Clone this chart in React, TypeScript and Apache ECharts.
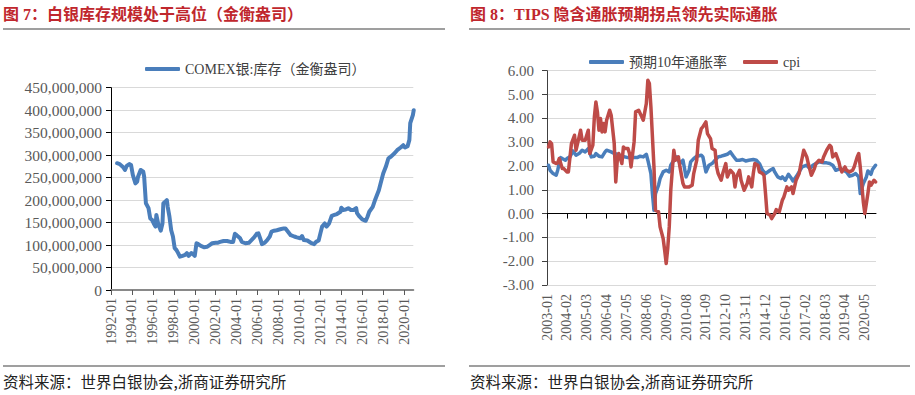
import React, { useEffect, useRef } from "react";
import * as echarts from "echarts";

// ---------- Figure 7: COMEX silver inventory (troy ounces) ----------
const silverBase = "1992-01";
const silverAxisEnd = "2020-12";
const silverTickLabels = [
  "1992-01", "1994-01", "1996-01", "1998-01", "2000-01", "2002-01", "2004-01", "2006-01",
  "2008-01", "2010-01", "2012-01", "2014-01", "2016-01", "2018-01", "2020-01",
];
const silverDates = [
  "1992-08", "1992-11", "1993-03", "1993-05", "1993-07", "1993-10", "1993-12", "1994-02", "1994-05", "1994-07",
  "1994-08", "1994-11", "1995-02", "1995-03", "1995-05", "1995-08", "1995-10", "1995-12", "1996-02", "1996-04",
  "1996-05", "1996-07", "1996-10", "1996-12", "1997-01", "1997-03", "1997-05", "1997-06", "1997-08", "1997-10",
  "1997-12", "1998-02", "1998-04", "1998-06", "1998-08", "1998-11", "1999-02", "1999-04", "1999-06", "1999-09",
  "1999-11", "2000-01", "2000-03", "2000-05", "2000-08", "2000-12", "2001-03", "2001-06", "2001-09", "2002-01",
  "2002-03", "2002-06", "2002-10", "2003-02", "2003-06", "2003-09", "2003-11", "2004-01", "2004-05", "2004-07",
  "2004-11", "2005-03", "2005-06", "2005-09", "2005-12", "2006-02", "2006-04", "2006-06", "2006-09", "2006-12",
  "2007-03", "2007-05", "2007-08", "2007-11", "2008-03", "2008-07", "2008-09", "2008-11", "2009-03", "2009-07",
  "2009-10", "2010-02", "2010-04", "2010-06", "2010-10", "2011-02", "2011-06", "2011-08", "2011-11", "2012-01",
  "2012-03", "2012-06", "2012-08", "2012-11", "2013-02", "2013-05", "2013-08", "2013-12", "2014-01", "2014-03",
  "2014-06", "2014-09", "2014-12", "2015-03", "2015-06", "2015-07", "2015-10", "2016-01", "2016-05", "2016-07",
  "2016-09", "2017-01", "2017-04", "2017-08", "2017-10", "2018-01", "2018-04", "2018-07", "2018-10", "2019-02",
  "2019-05", "2019-09", "2019-12", "2020-02", "2020-05", "2020-07", "2020-08", "2020-11", "2020-12",
];
// millions of troy ounces
const silverStockMillion = [
  282, 280, 273, 267, 276, 280, 278, 256, 237, 241,
  252, 267, 263, 252, 193, 182, 159, 156, 148, 141,
  167, 148, 132, 148, 193, 196, 200, 185, 163, 133,
  119, 93, 89, 82, 74, 76, 78, 82, 76, 82,
  80, 76, 104, 102, 98, 95, 96, 100, 104, 105,
  105, 107, 109, 109, 107, 107, 125, 122, 115, 107,
  104, 105, 111, 117, 125, 126, 115, 102, 105, 111,
  119, 130, 132, 133, 135, 137, 137, 132, 122, 119,
  117, 115, 120, 111, 110, 105, 102, 107, 110, 126,
  141, 148, 141, 148, 165, 167, 169, 174, 183, 178,
  179, 182, 178, 178, 182, 171, 163, 157, 154, 163,
  174, 185, 202, 222, 237, 259, 274, 293, 297, 304,
  311, 317, 322, 317, 320, 334, 371, 389, 400,
];

// ---------- Figure 8: TIPS breakeven vs CPI ----------
const tipsBase = "2003-01";
const tipsAxisEnd = "2020-12";
const tipsTickLabels = [
  "2003-01", "2004-02", "2005-03", "2006-04", "2007-05", "2008-06", "2009-07", "2010-08", "2011-09",
  "2012-10", "2013-11", "2014-12", "2016-01", "2017-02", "2018-03", "2019-04", "2020-05",
];
const breakevenDates = [
  "2003-02", "2003-03", "2003-05", "2003-07", "2003-08", "2003-09", "2003-10", "2003-11", "2004-01", "2004-02",
  "2004-04", "2004-06", "2004-08", "2004-10", "2004-12", "2005-02", "2005-04", "2005-06", "2005-08", "2005-09",
  "2005-11", "2006-01", "2006-03", "2006-04", "2006-07", "2006-09", "2006-11", "2007-02", "2007-06", "2007-09",
  "2007-12", "2008-02", "2008-04", "2008-06", "2008-07", "2008-09", "2008-10", "2008-11", "2008-12", "2009-02",
  "2009-03", "2009-05", "2009-07", "2009-09", "2009-10", "2009-12", "2010-02", "2010-04", "2010-06", "2010-08",
  "2010-10", "2010-11", "2011-01", "2011-03", "2011-06", "2011-07", "2011-09", "2011-11", "2012-01", "2012-03",
  "2012-05", "2012-07", "2012-09", "2012-11", "2013-01", "2013-03", "2013-05", "2013-07", "2013-09", "2013-11",
  "2014-01", "2014-04", "2014-06", "2014-08", "2014-10", "2014-12", "2015-03", "2015-05", "2015-06", "2015-08",
  "2015-10", "2015-11", "2016-01", "2016-03", "2016-05", "2016-06", "2016-08", "2016-10", "2016-12", "2017-03",
  "2017-05", "2017-07", "2017-09", "2017-11", "2018-02", "2018-04", "2018-06", "2018-08", "2018-10", "2019-01",
  "2019-03", "2019-05", "2019-07", "2019-09", "2019-11", "2020-01", "2020-02", "2020-04", "2020-06", "2020-07",
  "2020-09", "2020-10", "2020-12",
];
const breakevenValues = [
  2.03, 1.82, 1.68, 1.61, 1.82, 2.10, 2.35, 2.31, 2.24, 2.31,
  2.38, 2.63, 2.45, 2.52, 2.66, 2.59, 2.73, 2.38, 2.41, 2.52,
  2.41, 2.38, 2.59, 2.66, 2.59, 2.52, 2.49, 2.41, 2.35, 2.35,
  2.35, 2.41, 2.38, 2.49, 2.24, 1.68, 0.84, 0.14, 0.84, 1.19,
  1.47, 1.75, 1.82, 1.75, 2.03, 2.24, 2.38, 2.10, 2.24, 1.54,
  1.82, 2.17, 2.31, 2.41, 2.45, 2.38, 1.75, 2.03, 2.10, 2.24,
  2.38, 2.41, 2.45, 2.49, 2.59, 2.41, 2.24, 2.24, 2.27, 2.21,
  2.24, 2.27, 2.24, 2.10, 1.82, 1.68, 1.82, 1.89, 1.75, 1.54,
  1.47, 1.54, 1.40, 1.65, 1.47, 1.37, 1.54, 1.75, 1.96, 2.03,
  1.89, 2.03, 2.10, 2.17, 2.13, 2.13, 2.10, 2.03, 1.82, 1.89,
  1.82, 1.75, 1.57, 1.61, 1.68, 1.54, 0.84, 1.26, 1.54, 1.79,
  1.65, 1.85, 2.03,
];
const cpiDates = [
  "2003-02", "2003-03", "2003-04", "2003-05", "2003-07", "2003-08", "2003-09", "2003-11", "2003-12", "2004-02",
  "2004-03", "2004-05", "2004-07", "2004-08", "2004-09", "2004-11", "2004-12", "2005-02", "2005-04", "2005-05",
  "2005-07", "2005-08", "2005-09", "2005-10", "2005-11", "2005-12", "2006-01", "2006-02", "2006-03", "2006-04",
  "2006-06", "2006-07", "2006-09", "2006-10", "2006-11", "2006-12", "2007-02", "2007-03", "2007-04", "2007-06",
  "2007-07", "2007-08", "2007-10", "2007-11", "2008-01", "2008-03", "2008-04", "2008-06", "2008-07", "2008-08",
  "2008-09", "2008-11", "2008-12", "2009-02", "2009-03", "2009-05", "2009-06", "2009-07", "2009-08", "2009-09",
  "2009-10", "2009-12", "2010-01", "2010-03", "2010-04", "2010-06", "2010-07", "2010-10", "2010-12", "2011-01",
  "2011-03", "2011-04", "2011-06", "2011-07", "2011-09", "2011-10", "2011-12", "2012-01", "2012-03", "2012-04",
  "2012-05", "2012-07", "2012-08", "2012-10", "2012-11", "2013-01", "2013-03", "2013-04", "2013-05", "2013-07",
  "2013-08", "2013-10", "2013-12", "2014-01", "2014-03", "2014-04", "2014-05", "2014-07", "2014-08", "2014-10",
  "2014-11", "2014-12", "2015-01", "2015-03", "2015-04", "2015-06", "2015-07", "2015-09", "2015-11", "2015-12",
  "2016-02", "2016-03", "2016-05", "2016-06", "2016-08", "2016-10", "2016-11", "2017-01", "2017-03", "2017-04",
  "2017-06", "2017-08", "2017-09", "2017-11", "2018-01", "2018-02", "2018-04", "2018-06", "2018-07", "2018-08",
  "2018-10", "2018-12", "2019-01", "2019-02", "2019-04", "2019-05", "2019-07", "2019-09", "2019-10", "2019-12",
  "2020-01", "2020-02", "2020-04", "2020-05", "2020-07", "2020-08", "2020-09", "2020-11", "2020-12",
];
const cpiValues = [
  2.80, 3.01, 2.94, 2.17, 2.10, 2.13, 2.31, 1.89, 1.89, 1.75,
  1.75, 2.94, 3.29, 2.66, 2.94, 3.50, 3.08, 3.08, 3.50, 2.52,
  2.87, 4.06, 4.69, 4.27, 3.50, 3.99, 3.43, 3.78, 3.43, 3.92,
  4.34, 4.13, 2.94, 1.33, 2.24, 2.52, 2.10, 2.80, 2.73, 2.73,
  2.52, 1.96, 3.01, 4.27, 4.34, 4.06, 3.92, 4.62, 5.60, 5.46,
  4.48, 1.96, 0.14, 0.07, -0.56, -1.05, -1.54, -2.10, -1.47, -0.56,
  0.98, 2.66, 2.24, 2.38, 1.96, 1.26, 1.12, 1.12, 1.19, 1.68,
  2.24, 3.08, 3.57, 3.64, 3.85, 3.36, 3.15, 2.73, 2.66, 1.96,
  1.68, 1.40, 1.68, 2.10, 1.54, 1.82, 1.68, 1.12, 1.54, 1.82,
  1.40, 0.98, 1.26, 1.54, 1.12, 1.68, 2.10, 2.03, 1.75, 1.68,
  1.61, 0.84, 0.00, -0.07, -0.21, 0.00, 0.17, 0.07, 0.56, 0.70,
  1.12, 0.98, 1.12, 0.84, 1.40, 1.68, 2.03, 2.66, 2.38, 2.10,
  1.61, 1.89, 2.10, 2.24, 2.17, 2.38, 2.66, 2.87, 2.80, 2.38,
  2.52, 2.17, 1.89, 1.75, 1.96, 1.82, 1.75, 1.82, 1.96, 2.38,
  2.52, 1.96, 0.49, 0.00, 0.84, 1.33, 1.19, 1.40, 1.33,
];

const TITLE_RED = "#c0272d";
const BLUE = "#4a7ebb";
const RED = "#be4b48";
const SERIF = "'Liberation Serif', 'Times New Roman', 'Noto Sans CJK SC', serif";
const CJK = "'Noto Sans CJK SC', sans-serif";

function monthIndex(d: string, base: string): number {
  const [y, m] = d.split("-").map(Number);
  const [by, bm] = base.split("-").map(Number);
  return (y - by) * 12 + (m - bm);
}

export default function App() {
  const ref = useRef<HTMLDivElement>(null);

  useEffect(() => {
    if (!ref.current) return;
    const chart = echarts.init(ref.current, undefined, { renderer: "svg" });

    const silverTicks = silverTickLabels.map((l) => monthIndex(l, silverBase));
    const silverMax = monthIndex(silverAxisEnd, silverBase) - 0.5;
    const tipsTicks = tipsTickLabels.map((l) => monthIndex(l, tipsBase));
    const tipsMax = monthIndex(tipsAxisEnd, tipsBase) + 0.3;

    const silverData = silverDates.map((d, i) => [monthIndex(d, silverBase), silverStockMillion[i] * 1e6]);
    const beData = breakevenDates.map((d, i) => [monthIndex(d, tipsBase), breakevenValues[i]]);
    const cpiData = cpiDates.map((d, i) => [monthIndex(d, tipsBase), cpiValues[i]]);

    const silverLabel = (v: number) => {
      const k = silverTicks.indexOf(Math.round(v));
      return k >= 0 ? silverTickLabels[k] : "";
    };
    const tipsLabel = (v: number) => {
      const k = tipsTicks.indexOf(Math.round(v));
      return k >= 0 ? tipsTickLabels[k] : "";
    };

    const axisText = { color: "#595959", fontFamily: SERIF };

    chart.setOption({
      animation: false,
      backgroundColor: "#ffffff",
      grid: [
        { left: 111, top: 87.7, width: 302.3, height: 202.3, containLabel: false },
        { left: 547, top: 70.7, width: 329, height: 214.3, containLabel: false },
      ],
      legend: [
        {
          data: ["COMEX银:库存（金衡盎司）"],
          left: 145,
          top: 62,
          padding: 0,
          itemWidth: 35,
          itemHeight: 4,
          icon: "roundRect",
          textStyle: { fontSize: 14, color: "#404040", fontFamily: SERIF },
        },
        {
          data: ["预期10年通胀率", "cpi"],
          left: 589,
          top: 55,
          padding: 0,
          itemGap: 16,
          itemWidth: 35,
          itemHeight: 4,
          icon: "roundRect",
          textStyle: { fontSize: 14, color: "#404040", fontFamily: SERIF },
        },
      ],
      xAxis: [
        {
          type: "value",
          gridIndex: 0,
          min: 0,
          max: silverMax,
          interval: 24,
          axisLine: { show: true, onZero: false, lineStyle: { color: "#898989", width: 2 } },
          axisTick: { show: true, length: 5, customValues: silverTicks, lineStyle: { color: "#595959" } },
          axisLabel: {
            ...axisText,
            fontSize: 14,
            rotate: 90,
            margin: 8,
            customValues: silverTicks,
            formatter: silverLabel,
          },
          splitLine: { show: false },
        },
        {
          type: "value",
          gridIndex: 1,
          position: "bottom",
          min: 0,
          max: tipsMax,
          interval: 13,
          axisLine: { show: false, onZero: false },
          axisTick: { show: false },
          axisLabel: {
            ...axisText,
            fontSize: 14,
            rotate: 90,
            margin: 9,
            customValues: tipsTicks,
            formatter: tipsLabel,
          },
          splitLine: { show: false },
        },
        {
          type: "value",
          gridIndex: 1,
          position: "bottom",
          min: 0,
          max: tipsMax,
          interval: 13,
          axisLine: { show: true, onZero: true, lineStyle: { color: "#000000", width: 1 } },
          axisTick: { show: true, length: 5, customValues: tipsTicks, lineStyle: { color: "#000000" } },
          axisLabel: { show: false },
          splitLine: { show: false },
        },
      ],
      yAxis: [
        {
          type: "value",
          gridIndex: 0,
          min: 0,
          max: 450000000,
          interval: 50000000,
          axisLine: { show: true, onZero: false, lineStyle: { color: "#000000", width: 1 } },
          axisTick: { show: true, length: 5, lineStyle: { color: "#000000" } },
          axisLabel: {
            ...axisText,
            fontSize: 15.5,
            margin: 9,
            formatter: (v: number) => v.toLocaleString("en-US"),
          },
          splitLine: { show: true, lineStyle: { color: "#d9d9d9", width: 1 } },
        },
        {
          type: "value",
          gridIndex: 1,
          min: -3,
          max: 6,
          interval: 1,
          axisLine: { show: true, onZero: false, lineStyle: { color: "#404040", width: 1 } },
          axisTick: { show: true, length: 5, lineStyle: { color: "#404040" } },
          axisLabel: {
            ...axisText,
            fontSize: 15,
            margin: 13,
            formatter: (v: number) => v.toFixed(2),
          },
          splitLine: { show: true, lineStyle: { color: "#d9d9d9", width: 1 } },
        },
      ],
      series: [
        {
          name: "COMEX银:库存（金衡盎司）",
          type: "line",
          xAxisIndex: 0,
          yAxisIndex: 0,
          data: silverData,
          symbol: "none",
          color: BLUE,
          lineStyle: { color: BLUE, width: 4, cap: "round", join: "round" },
        },
        {
          name: "预期10年通胀率",
          type: "line",
          xAxisIndex: 1,
          yAxisIndex: 1,
          data: beData,
          symbol: "none",
          color: BLUE,
          lineStyle: { color: BLUE, width: 3.5, cap: "round", join: "round" },
        },
        {
          name: "cpi",
          type: "line",
          xAxisIndex: 1,
          yAxisIndex: 1,
          data: cpiData,
          symbol: "none",
          color: RED,
          lineStyle: { color: RED, width: 3.5, cap: "round", join: "round" },
        },
      ],
      graphic: [
        {
          type: "text",
          x: 3,
          y: 14,
          style: {
            text: "图 7：白银库存规模处于高位（金衡盎司）",
            fill: TITLE_RED,
            fontSize: 16,
            fontWeight: "bold",
            fontFamily: SERIF,
            verticalAlign: "middle",
          },
        },
        {
          type: "text",
          x: 470,
          y: 14,
          style: {
            text: "图 8：TIPS 隐含通胀预期拐点领先实际通胀",
            fill: TITLE_RED,
            fontSize: 16,
            fontWeight: "bold",
            fontFamily: SERIF,
            verticalAlign: "middle",
          },
        },
        { type: "line", shape: { x1: 3, y1: 29, x2: 445, y2: 29 }, style: { stroke: "#7f7f7f", lineWidth: 1.5 } },
        { type: "line", shape: { x1: 469, y1: 29, x2: 910, y2: 29 }, style: { stroke: "#7f7f7f", lineWidth: 1.5 } },
        { type: "line", shape: { x1: 3, y1: 366, x2: 445, y2: 366 }, style: { stroke: "#7f7f7f", lineWidth: 1.5 } },
        { type: "line", shape: { x1: 469, y1: 366, x2: 910, y2: 366 }, style: { stroke: "#7f7f7f", lineWidth: 1.5 } },
        {
          type: "text",
          x: 3,
          y: 381,
          style: {
            text: "资料来源：世界白银协会,浙商证券研究所",
            fill: "#222222",
            fontSize: 15.5,
            fontFamily: CJK,
            verticalAlign: "middle",
          },
        },
        {
          type: "text",
          x: 470,
          y: 381,
          style: {
            text: "资料来源：世界白银协会,浙商证券研究所",
            fill: "#222222",
            fontSize: 15.5,
            fontFamily: CJK,
            verticalAlign: "middle",
          },
        },
      ],
    });

    return () => chart.dispose();
  }, []);

  return (
    <div
      ref={ref}
      style={{ position: "fixed", left: 0, top: 0, width: 915, height: 395, background: "#fff" }}
    />
  );
}
